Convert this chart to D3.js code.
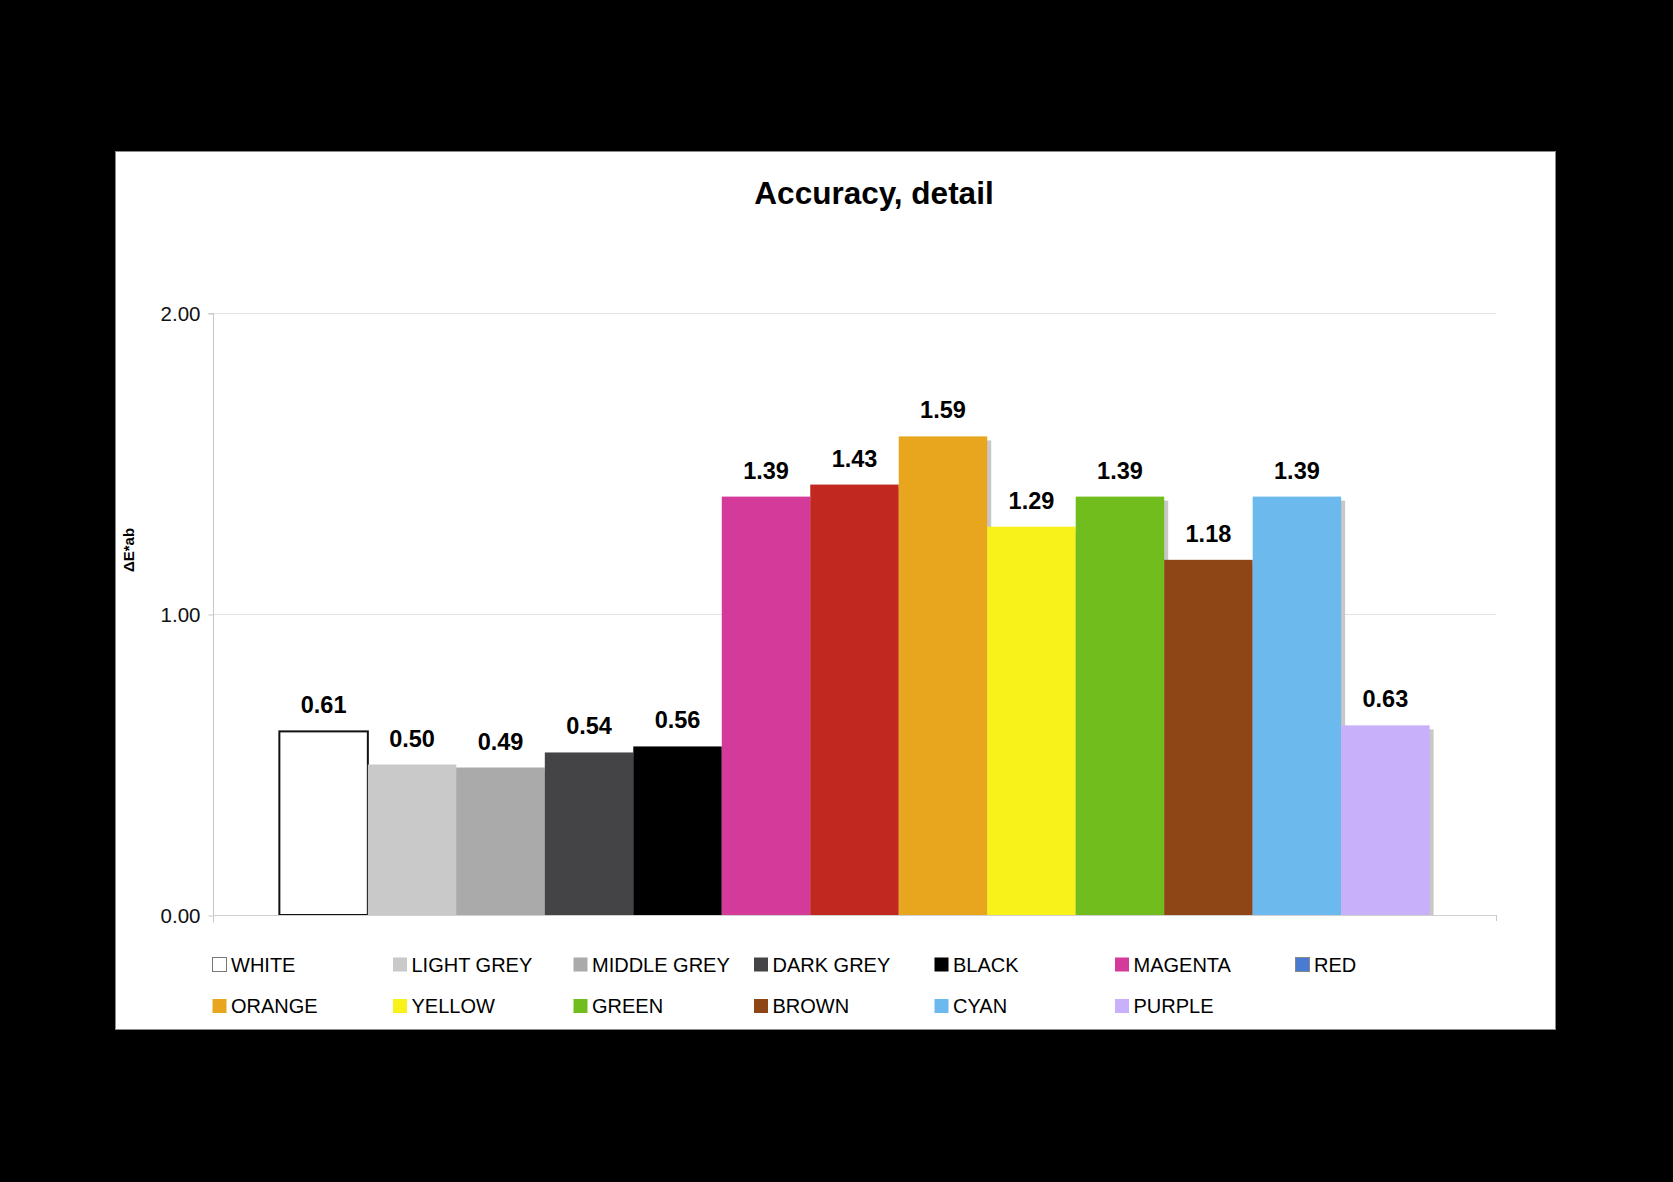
<!DOCTYPE html>
<html>
<head>
<meta charset="utf-8">
<script src="https://cdn.jsdelivr.net/npm/d3@7"></script>
<style>
html,body{margin:0;padding:0;background:#000;}
svg{display:block;font-family:"Liberation Sans",Arial,sans-serif;}
</style>
</head>
<body>
<svg id="chart" width="1673" height="1182"></svg>
<script>
const categories = ["WHITE","LIGHT GREY","MIDDLE GREY","DARK GREY","BLACK","MAGENTA","RED","ORANGE","YELLOW","GREEN","BROWN","CYAN","PURPLE"];
const values = [0.61,0.50,0.49,0.54,0.56,1.39,1.43,1.59,1.29,1.39,1.18,1.39,0.63];
const barColors = ["#ffffff","#c9c9c9","#aaaaaa","#444446","#000000","#d43a9a","#c02820","#e8a61e","#f9f11a","#72bd1e","#8f4616","#6cb9ed","#c9b0fb"];
const legendColors = ["#ffffff","#c9c9c9","#aaaaaa","#444446","#000000","#d43a9a","#4a7bd2","#e8a61e","#f9f11a","#72bd1e","#8f4616","#6cb9ed","#c9b0fb"];
const yTicks = [0,1,2];
const title = "Accuracy, detail";
const yLabel = "ΔE*ab";

const svg = d3.select("#chart");
svg.append("rect").attr("x",0).attr("y",0).attr("width",1673).attr("height",1182).attr("fill","#000");
svg.append("rect").attr("x",115.5).attr("y",151.5).attr("width",1440).attr("height",878).attr("fill","#fff").attr("stroke","#8a8a8a").attr("stroke-width",1);

const plot = {left:213, right:1496, top:313, bottom:915};
const y = d3.scaleLinear().domain([0,2]).range([plot.bottom, plot.top]);
const gapPx = (plot.right-plot.left) * (1.5/(13+1.5)) / 2;
const x = d3.scaleBand().domain(categories).range([plot.left+gapPx, plot.right-gapPx]).padding(0);

// gridlines
svg.append("g").selectAll("line").data(yTicks.filter(d=>d>0)).join("line")
  .attr("x1",plot.left).attr("x2",plot.right)
  .attr("y1",d=>y(d)+0.5).attr("y2",d=>y(d)+0.5)
  .attr("stroke","#e3e3e3").attr("stroke-width",1);

// y axis
const yAxis = d3.axisLeft(y).tickValues(yTicks).tickFormat(d3.format(".2f")).tickSize(5).tickPadding(8);
const gy = svg.append("g").attr("transform",`translate(${plot.left+0.5},0.5)`).call(yAxis);
gy.select(".domain").attr("stroke","#c8c8c8").attr("d",`M-5,${plot.top}H0V${plot.bottom+7}`);
gy.selectAll(".tick line").attr("stroke","#c8c8c8");
gy.selectAll(".tick text").attr("font-size",20.5).attr("fill","#111").attr("font-family","'Liberation Sans',Arial,sans-serif");

// bars drawn in order so next bar covers previous shadow
const bw = x.bandwidth();
const bars = svg.append("g");
categories.forEach((c,i)=>{
  if(i>0){
    bars.append("rect").attr("x",x(c)+4).attr("y",y(values[i])+4).attr("width",bw).attr("height",plot.bottom-y(values[i])-4).attr("fill","#c8c8c8");
  }
  bars.append("rect").attr("x",x(c)).attr("y",y(values[i])).attr("width",bw).attr("height",plot.bottom-y(values[i]))
    .attr("fill",barColors[i])
    .attr("stroke",i===0?"#111":"none").attr("stroke-width",i===0?2:0);
});

// x axis line
svg.append("line").attr("x1",plot.left).attr("x2",plot.right).attr("y1",plot.bottom+0.5).attr("y2",plot.bottom+0.5).attr("stroke","#d0d0d0");
svg.append("line").attr("x1",plot.right+0.5).attr("x2",plot.right+0.5).attr("y1",plot.bottom).attr("y2",plot.bottom+6).attr("stroke","#c8c8c8");

// value labels
svg.append("g").selectAll("text").data(categories.map((c,i)=>({c,v:values[i]}))).join("text")
  .attr("x",d=>x(d.c)+bw/2).attr("y",d=>y(d.v)-18)
  .attr("text-anchor","middle").attr("font-size",23.5).attr("font-weight","bold").attr("fill","#000")
  .text(d=>d.v.toFixed(2));

// title
svg.append("text").attr("x",874).attr("y",204).attr("text-anchor","middle")
  .attr("font-size",31.5).attr("font-weight","bold").attr("fill","#000").text(title);

// y label
svg.append("text").attr("transform","translate(134,550) rotate(-90)").attr("text-anchor","middle")
  .attr("font-size",15).attr("font-weight","bold").attr("fill","#000").text(yLabel);

// legend
const legend = svg.append("g");
categories.forEach((c,i)=>{
  const col = i<7 ? i : i-7;
  const row = i<7 ? 0 : 1;
  const lx = 212 + col*180.5;
  const ly = 957 + row*41.5;
  legend.append("rect").attr("x",lx+0.5).attr("y",ly+0.5).attr("width",14).attr("height",14)
    .attr("fill",legendColors[i]).attr("stroke",i===0?"#777":(i===6?"#888":"none"));
  legend.append("text").attr("x",lx+19).attr("y",ly+14.5).attr("font-size",20).attr("fill","#000").text(c);
});
</script>
</body>
</html>
